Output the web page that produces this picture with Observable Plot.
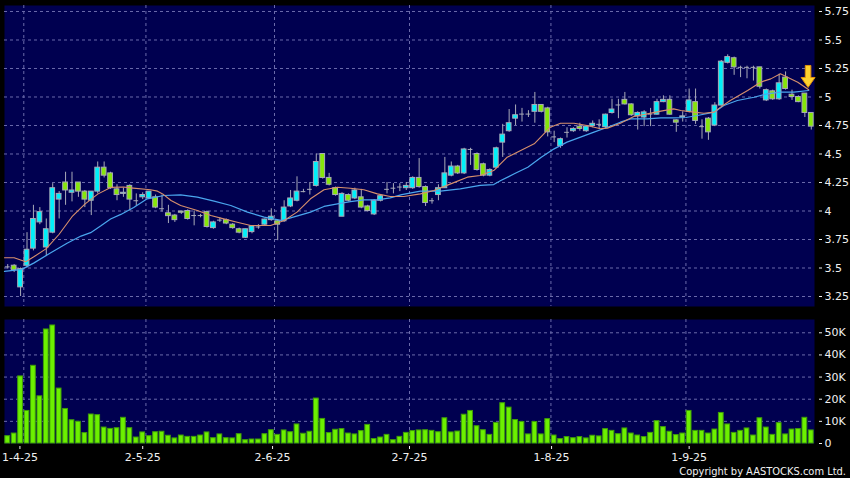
<!DOCTYPE html>
<html><head><meta charset="utf-8">
<script src="https://cdn.jsdelivr.net/npm/d3@7"></script>
<script src="https://cdn.jsdelivr.net/npm/@observablehq/plot@0.6"></script>
<style>
html,body{margin:0;padding:0;background:#000;}
#chart{position:relative;width:850px;height:478px;background:#000;overflow:hidden;}
#price,#volume{position:absolute;left:0;}
#price{top:0;}
#volume{top:312px;}
#copy{position:absolute;right:4px;top:465px;color:#f2f2f2;font:11px "DejaVu Sans Condensed","DejaVu Sans",sans-serif;white-space:nowrap;line-height:13px;}
</style></head><body>
<div id="chart"><div id="price"></div><div id="volume"></div><div id="copy">Copyright by AASTOCKS.com Ltd.</div></div>
<script>
// ---- data (trading-day index 0..125) ----
const opens  = [3.51,3.52,3.33,3.52,3.67,3.90,3.68,3.81,4.10,4.25,4.16,4.25,4.17,4.09,4.17,4.38,4.33,4.19,4.15,4.22,
                4.09,4.12,4.11,4.12,4.02,3.98,3.96,3.995,4.00,3.96,3.96,3.99,3.85,3.92,3.92,3.88,3.84,3.765,3.815,3.86,
                3.88,3.92,3.91,3.91,4.04,4.09,4.17,4.19,4.22,4.50,4.29,4.20,3.95,4.14,4.11,4.12,4.04,3.97,4.09,4.19,
                4.20,4.21,4.20,4.20,4.29,4.21,4.09,4.14,4.20,4.31,4.39,4.33,4.54,4.50,4.41,4.31,4.38,4.60,4.70,4.81,
                4.85,4.85,4.87,4.93,4.90,4.65,4.57,4.69,4.70,4.74,4.70,4.745,4.76,4.735,4.86,4.93,4.975,4.935,4.83,4.82,
                4.85,4.845,4.955,4.975,4.795,4.82,4.87,4.955,4.74,4.81,4.75,4.925,5.30,5.34,5.26,5.26,5.26,5.26,4.97,5.05,
                4.98,5.17,5.02,5.00,5.03,4.86];
const highs  = [3.53,3.53,3.50,3.81,4.05,4.03,3.93,4.24,4.17,4.34,4.34,4.25,4.18,4.17,4.43,4.43,4.34,4.23,4.20,4.23,
                4.15,4.16,4.17,4.14,4.14,4.05,3.97,4.00,4.01,4.00,3.97,4.00,3.91,3.94,3.93,3.89,3.85,3.84,3.87,3.88,
                3.93,4.02,3.92,4.09,4.18,4.30,4.19,4.25,4.50,4.50,4.33,4.21,4.16,4.15,4.20,4.19,4.05,4.10,4.14,4.25,
                4.24,4.24,4.25,4.30,4.46,4.22,4.11,4.23,4.47,4.43,4.40,4.55,4.55,4.51,4.42,4.37,4.56,4.76,4.89,4.93,
                4.90,4.88,5.04,4.93,4.91,4.70,4.64,4.73,4.73,4.77,4.75,4.79,4.80,4.85,4.98,4.98,5.04,4.94,4.87,4.88,
                4.90,4.98,5.01,5.01,4.80,4.87,5.07,5.07,4.80,4.82,4.95,5.32,5.37,5.35,5.27,5.27,5.27,5.26,5.07,5.06,
                5.20,5.22,5.06,5.01,5.03,4.86];
const lows   = [3.49,3.46,3.25,3.50,3.65,3.88,3.60,3.80,3.93,4.05,4.08,4.12,4.03,3.96,4.15,4.29,4.19,4.09,4.12,4.00,
                4.04,4.10,4.10,4.02,3.99,3.89,3.90,3.97,3.92,3.87,3.94,3.85,3.84,3.90,3.88,3.84,3.80,3.76,3.80,3.84,
                3.87,3.91,3.74,3.90,4.03,4.08,4.16,4.14,4.21,4.28,4.22,4.13,3.95,4.08,4.10,4.02,3.99,3.96,4.08,4.15,
                4.15,4.17,4.18,4.19,4.20,4.04,4.06,4.09,4.20,4.30,4.32,4.32,4.40,4.35,4.30,4.30,4.37,4.47,4.69,4.75,
                4.78,4.82,4.77,4.86,4.65,4.60,4.55,4.64,4.69,4.70,4.69,4.73,4.72,4.72,4.85,4.81,4.93,4.83,4.71,4.74,
                4.74,4.84,4.95,4.84,4.69,4.78,4.86,4.76,4.63,4.62,4.74,4.92,5.29,5.19,5.17,5.16,5.14,5.07,4.96,4.97,
                4.97,5.06,4.97,4.95,4.82,4.71];
const closes = [3.51,3.48,3.49,3.66,3.93,3.99,3.84,4.20,4.15,4.18,4.18,4.17,4.10,4.17,4.38,4.31,4.20,4.14,4.16,4.10,
                4.09,4.14,4.17,4.03,4.02,3.955,3.92,3.985,3.93,3.96,3.96,3.86,3.90,3.92,3.89,3.85,3.81,3.84,3.865,3.86,
                3.925,3.95,3.88,4.03,4.11,4.17,4.17,4.19,4.43,4.29,4.23,4.14,4.15,4.09,4.18,4.03,4.00,4.09,4.13,4.19,
                4.20,4.21,4.22,4.29,4.21,4.07,4.09,4.20,4.33,4.39,4.33,4.54,4.54,4.36,4.31,4.36,4.55,4.67,4.77,4.84,
                4.85,4.85,4.93,4.87,4.69,4.65,4.63,4.69,4.72,4.72,4.74,4.765,4.76,4.845,4.89,4.93,4.935,4.84,4.86,4.865,
                4.85,4.955,4.975,4.845,4.775,4.83,4.97,4.79,4.74,4.69,4.925,5.31,5.35,5.26,5.26,5.26,5.26,5.09,5.06,4.98,
                5.12,5.07,5.00,4.955,4.86,4.74];
const volumesK = [3.3,4.5,30.3,14.7,35.1,21.3,51.5,53.3,24.8,15.6,10.5,9.8,4.7,13.1,12.8,7.2,6.6,6.9,11.6,6.9,
                  2.7,5.0,3.3,5.1,5.3,3.5,2.3,3.6,3.0,3.0,3.6,5.0,2.4,4.1,2.4,2.3,4.2,1.5,1.8,1.8,
                  4.2,6.0,3.9,5.9,5.1,8.6,4.4,5.3,20.3,11.1,4.7,6.2,6.5,4.5,4.1,5.6,8.4,2.0,2.7,3.9,
                  1.5,3.0,4.8,5.6,5.9,6.0,5.7,5.1,11.4,5.0,5.4,13.0,14.7,7.8,6.0,3.9,9.3,18.2,16.2,10.6,
                  9.7,4.1,9.7,4.1,11.0,3.6,2.0,2.9,2.4,2.9,2.3,3.5,3.2,6.5,5.7,4.2,6.8,4.5,3.6,2.9,
                  4.8,10.1,7.4,5.3,3.8,4.5,14.7,5.7,5.7,4.5,6.3,13.8,8.6,4.8,5.7,6.8,3.6,11.4,7.2,3.9,
                  9.2,4.1,6.3,6.5,11.6,5.9];

// moving-average lines (position = trading-day index)
const maShortX = [-0.5,1,2.8,4,6,8,10,12,14,16,18,19.1,22.2,23.3,24.1,25.4,26.9,29.5,31.6,33.6,35.7,37.8,40.9,43,45,47.1,49.2,51.3,53.3,55.4,57.5,59.5,61.6,64.2,66.3,68.9,71.5,73.5,75.6,77.7,79.8,81.9,83.4,84.4,86,88.1,90.1,92.2,93.3,95.3,97.4,99.5,101.6,103.6,104.7,106.7,108.3,109.9,110.9,112.4,115.1,117.1,118.7,120.2,121.3,122.9,124.6];
const maShortY = [3.59,3.59,3.555,3.596,3.67,3.796,3.95,4.06,4.148,4.207,4.21,4.203,4.186,4.174,4.15,4.092,4.048,4.004,3.96,3.931,3.902,3.873,3.873,3.917,3.99,4.107,4.186,4.209,4.2,4.186,4.15,4.127,4.127,4.15,4.18,4.238,4.297,4.311,4.355,4.472,4.531,4.589,4.677,4.735,4.77,4.77,4.75,4.721,4.727,4.77,4.829,4.852,4.876,4.896,4.882,4.867,4.858,4.867,4.911,4.969,5.057,5.13,5.159,5.203,5.174,5.13,5.063];
const maLongX = [-0.5,2.2,4.1,6.7,9.3,11.4,12.9,14.5,16,17.6,19.6,21.7,24.3,26.9,29.5,32.1,34.7,37.3,39.9,42.5,44,47.1,49.2,51.3,53.3,55.4,57.5,59.5,61.3,64.2,67.3,70.4,73.5,75.6,76.7,78.8,80.9,83,85,87,89.1,91.2,93.3,95.3,96.9,99.5,101.6,103.6,105.5,107.3,109.9,111.4,113.5,116.1,118.1,120.2,122.3,124.6];
const maLongY = [3.47,3.488,3.545,3.634,3.72,3.78,3.81,3.87,3.93,3.97,4.03,4.107,4.136,4.142,4.121,4.086,4.048,3.99,3.946,3.917,3.94,3.99,4.04,4.063,4.083,4.098,4.098,4.115,4.143,4.174,4.174,4.194,4.224,4.232,4.267,4.326,4.384,4.472,4.545,4.604,4.648,4.692,4.735,4.779,4.808,4.808,4.817,4.817,4.82,4.838,4.867,4.925,4.969,4.998,5.028,5.042,5.042,5.057];

const tickPos    = [1.9, 21, 41.2, 62.5, 84.6, 106];
const tickLabels = ["1-4-25","2-5-25","2-6-25","2-7-25","1-8-25","1-9-25"];
const gridPos    = [2.5, 21.5, 41.5, 62.5, 84.5, 105.5];
const priceTicks = [3.25,3.5,3.75,4,4.25,4.5,4.75,5,5.25,5.5,5.75];
const volTicks   = [0,10000,20000,30000,40000,50000];
const signalIdx  = [124.5];
const signalPrice = [5.18];

// ---- styling ----
const navy = "#000050", gridColor = "#6a6aaa", textColor = "#f0f0f0";
const upFill = "#00f0fa", downFill = "#86e60a", edge = "#a8aab8";
const volFill = "#6cf000", volEdge = "#3f9e08";
const font = "'DejaVu Sans', Verdana, sans-serif";
const hw = 0.37;

const candles = opens.map((o, i) => ({i, o, h: highs[i], l: lows[i], c: closes[i], v: volumesK[i] * 1000}));
const xDomain = [-0.5, opens.length - 0.5];
const shortLine = maShortX.map((x, k) => ({x, y: maShortY[k]}));
const longLine = maLongX.map((x, k) => ({x, y: maLongY[k]}));
const signals = signalIdx.map((x, k) => ({x, y: signalPrice[k]}));
const labelOf = new Map(tickPos.map((p, k) => [p, tickLabels[k]]));

const arrowSymbol = {
  draw(ctx) {
    ctx.moveTo(-2.8, -11); ctx.lineTo(2.8, -11); ctx.lineTo(2.8, 1); ctx.lineTo(7, 1);
    ctx.lineTo(0, 11); ctx.lineTo(-7, 1); ctx.lineTo(-2.8, 1); ctx.closePath();
  }
};

const style = {background: "#000", color: textColor, fontFamily: font, fontSize: "11px", overflow: "visible"};

const price = Plot.plot({
  width: 850, height: 312,
  marginLeft: 4, marginRight: 36, marginTop: 5, marginBottom: 6,
  style,
  x: {type: "linear", domain: xDomain, axis: null},
  y: {domain: [3.1623, 5.8026], axis: null},
  marks: [
    Plot.frame({fill: navy, stroke: null}),
    Plot.gridY(priceTicks, {stroke: gridColor, strokeOpacity: 1, strokeDasharray: "3,3"}),
    Plot.gridX(gridPos, {stroke: gridColor, strokeOpacity: 1, strokeDasharray: "3,3"}),
    Plot.ruleX(candles, {x: "i", y1: "l", y2: "h", stroke: edge}),
    Plot.rect(candles.filter(d => d.c !== d.o), {
      x1: d => d.i - hw, x2: d => d.i + hw,
      y1: d => Math.min(d.o, d.c), y2: d => Math.max(d.o, d.c),
      fill: d => d.c > d.o ? upFill : downFill, stroke: edge, strokeWidth: 1
    }),
    Plot.ruleY(candles.filter(d => d.c === d.o), {y: "c", x1: d => d.i - hw, x2: d => d.i + hw, stroke: edge}),
    Plot.line(longLine, {x: "x", y: "y", stroke: "#4aa6ee", strokeWidth: 1.2}),
    Plot.line(shortLine, {x: "x", y: "y", stroke: "#d8906c", strokeWidth: 1.1}),
    Plot.dot(signals, {x: "x", y: "y", symbol: arrowSymbol, r: 8, fill: "#ffd22e", stroke: "#e0900a", strokeWidth: 1}),
    Plot.axisY(priceTicks, {anchor: "right", label: null, dx: 4, tickSize: 3, tickPadding: 3, tickFormat: d => String(d)})
  ]
});
document.getElementById("price").append(price);

const volume = Plot.plot({
  width: 850, height: 166,
  marginLeft: 4, marginRight: 36, marginTop: 7, marginBottom: 35,
  style,
  x: {type: "linear", domain: xDomain, axis: null},
  y: {domain: [0, 56000], axis: null},
  marks: [
    Plot.frame({fill: navy, stroke: null}),
    Plot.gridY(volTicks.filter(v => v > 0), {stroke: gridColor, strokeOpacity: 1, strokeDasharray: "3,3"}),
    Plot.gridX(gridPos, {stroke: gridColor, strokeOpacity: 1, strokeDasharray: "3,3"}),
    Plot.rect(candles, {x1: d => d.i - hw, x2: d => d.i + hw, y1: 0, y2: "v", fill: volFill, stroke: volEdge, strokeWidth: 1}),
    Plot.axisY(volTicks, {anchor: "right", label: null, dx: 4, tickSize: 3, tickPadding: 3, tickFormat: d => d === 0 ? "0" : (d / 1000) + "K"}),
    Plot.axisX(tickPos, {anchor: "bottom", label: null, dy: 3, tickSize: 3, tickPadding: 4, tickFormat: d => labelOf.get(d)})
  ]
});
document.getElementById("volume").append(volume);
</script>
</body></html>
